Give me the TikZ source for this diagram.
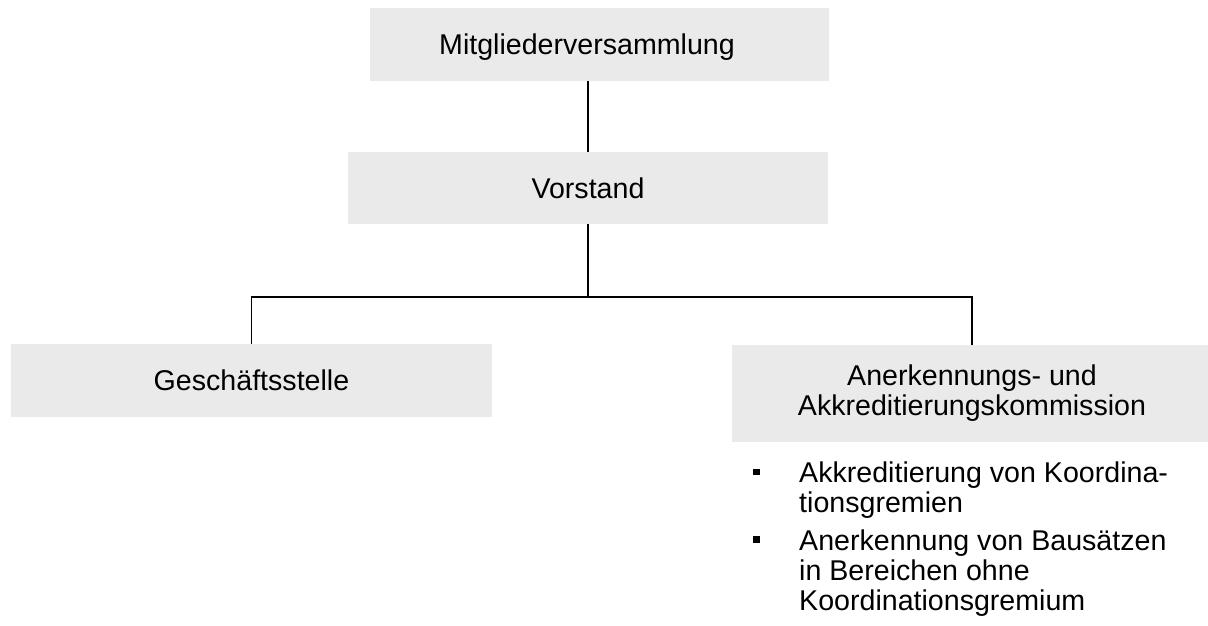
\documentclass[tikz,border=0pt]{standalone}
\usepackage{fontspec}
\setmainfont{Liberation Sans}
\definecolor{boxgray}{HTML}{EAEAEA}
\newcommand\bul{\llap{\rule[7.75pt]{6.5pt}{6.5pt}\hspace{39.5pt}}}
\begin{document}
\begin{tikzpicture}[x=1pt,y=-1pt,
  txt/.style={font=\fontsize{28.6}{30}\selectfont, inner sep=0pt},
  box/.style={txt, fill=boxgray},
  oneline/.style={text height=20.5pt, text depth=0pt},
  conn/.style={line width=1.8pt, draw=black}]
\useasboundingbox (0,0) rectangle (1208,625);
\node[box, oneline, minimum width=459pt, minimum height=73pt] (mv) at (599.5,44.5) {Mitgliederversammlung\hspace*{25pt}};
\node[box, oneline, minimum width=480pt, minimum height=72pt] (vs) at (588,188) {Vorstand};
\node[box, oneline, minimum width=481pt, minimum height=73pt] (gs) at (251.5,380.5) {Geschäftsstelle};
\node[box, align=center, minimum width=480pt, minimum height=97pt] (ak) at (972,393.5) {Anerkennungs- und\\Akkreditierungskommission};
\node[txt, anchor=north west, align=left] (li) at (799,462) {\bul Akkreditierung von Koordina-\\tionsgremien\rule[-16pt]{0pt}{16pt}\\\bul Anerkennung von Bausätzen\\in Bereichen ohne\\Koordinationsgremium};
\coordinate (j) at (588,297);
\draw[conn] (vs.north) -- (vs.north |- mv.south);
\draw[conn] (vs.south) -- (j);
\draw[conn] (gs.north) |- (j) -| (ak.north);
\end{tikzpicture}
\end{document}
